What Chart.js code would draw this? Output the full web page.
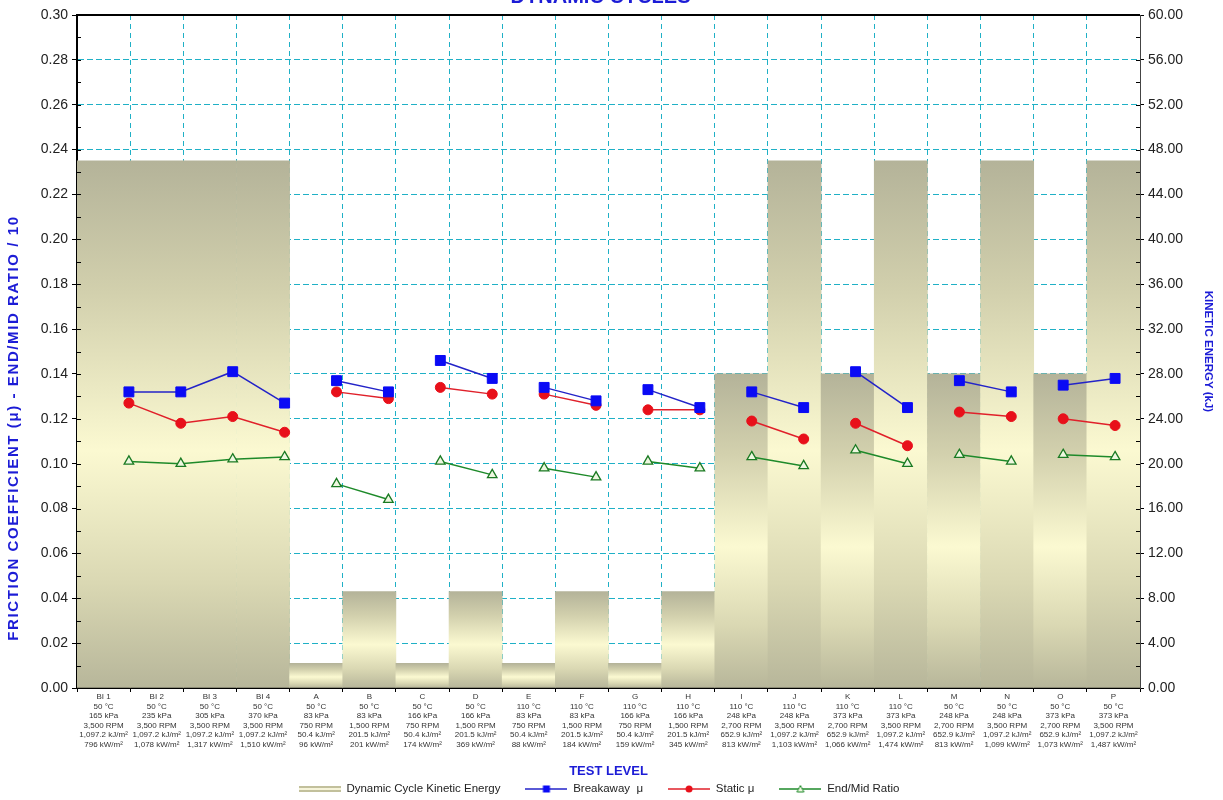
<!DOCTYPE html>
<html><head><meta charset="utf-8">
<script src="https://cdn.jsdelivr.net/npm/chart.js@4.4.1/dist/chart.umd.min.js"></script>
<style>html,body{margin:0;padding:0;background:#fff;overflow:hidden}#wrap{width:1223px;height:800px}</style>
</head><body><div id="wrap"><canvas id="c" width="1223" height="800"></canvas></div>
<script>
const categories = ['BI 1','BI 2','BI 3','BI 4','A','B','C','D','E','F','G','H','I','J','K','L','M','N','O','P'];
const temps = ['50 °C','50 °C','50 °C','50 °C','50 °C','50 °C','50 °C','50 °C','110 °C','110 °C','110 °C','110 °C','110 °C','110 °C','110 °C','110 °C','50 °C','50 °C','50 °C','50 °C'];
const pressures = ['165 kPa','235 kPa','305 kPa','370 kPa','83 kPa','83 kPa','166 kPa','166 kPa','83 kPa','83 kPa','166 kPa','166 kPa','248 kPa','248 kPa','373 kPa','373 kPa','248 kPa','248 kPa','373 kPa','373 kPa'];
const speeds = ['3,500 RPM','3,500 RPM','3,500 RPM','3,500 RPM','750 RPM','1,500 RPM','750 RPM','1,500 RPM','750 RPM','1,500 RPM','750 RPM','1,500 RPM','2,700 RPM','3,500 RPM','2,700 RPM','3,500 RPM','2,700 RPM','3,500 RPM','2,700 RPM','3,500 RPM'];
const energyDensity = ['1,097.2 kJ/m²','1,097.2 kJ/m²','1,097.2 kJ/m²','1,097.2 kJ/m²','50.4 kJ/m²','201.5 kJ/m²','50.4 kJ/m²','201.5 kJ/m²','50.4 kJ/m²','201.5 kJ/m²','50.4 kJ/m²','201.5 kJ/m²','652.9 kJ/m²','1,097.2 kJ/m²','652.9 kJ/m²','1,097.2 kJ/m²','652.9 kJ/m²','1,097.2 kJ/m²','652.9 kJ/m²','1,097.2 kJ/m²'];
const powerDensity = ['796 kW/m²','1,078 kW/m²','1,317 kW/m²','1,510 kW/m²','96 kW/m²','201 kW/m²','174 kW/m²','369 kW/m²','88 kW/m²','184 kW/m²','159 kW/m²','345 kW/m²','813 kW/m²','1,103 kW/m²','1,066 kW/m²','1,474 kW/m²','813 kW/m²','1,099 kW/m²','1,073 kW/m²','1,487 kW/m²'];

const kineticEnergy = [47.0,47.0,47.0,47.0,2.2,8.6,2.2,8.6,2.2,8.6,2.2,8.6,28.0,47.0,28.0,47.0,28.0,47.0,28.0,47.0];
const breakawayMu = [0.132,0.132,0.141,0.127,0.137,0.132,0.146,0.138,0.134,0.128,0.133,0.125,0.132,0.125,0.141,0.125,0.137,0.132,0.135,0.138];
const staticMu = [0.127,0.118,0.121,0.114,0.132,0.129,0.134,0.131,0.131,0.126,0.124,0.124,0.119,0.111,0.118,0.108,0.123,0.121,0.120,0.117];
const endMidRatio = [0.101,0.100,0.102,0.103,0.091,0.084,0.101,0.095,0.098,0.094,0.101,0.098,0.103,0.099,0.106,0.100,0.104,0.101,0.104,0.103];
const groupEnds = [3,5,7,9,11,13,15,17,19];

const leftMax = 0.30, leftStep = 0.02, rightMax = 60, rightStep = 4;
const legendTexts = ['Dynamic Cycle Kinetic Energy','Breakaway  μ','Static μ','End/Mid Ratio'];
const leftTitle = 'FRICTION COEFFICIENT (μ) - END/MID RATIO / 10';
const rightTitle = 'KINETIC ENERGY (kJ)';
const xTitle = 'TEST LEVEL';
const chartTitle = 'DYNAMIC CYCLES';

const FONT = 'Arial, "Liberation Sans", sans-serif';
const BLUE_T = '#1c1cd6';

const xLabels = categories.map((c,i)=>[c,temps[i],pressures[i],speeds[i],energyDensity[i],powerDensity[i]]);

function buildPoints(vals){
  const pts=[];
  vals.forEach((v,i)=>{pts.push({x:i,y:v}); if(groupEnds.includes(i) && i<vals.length-1) pts.push({x:i+0.5,y:null});});
  return pts;
}

function barFill(ctx){
  const chart=ctx.chart;
  if(!chart.chartArea || ctx.type!=='data') return '#c9c7a6';
  const ys=chart.scales.y1;
  const top=ys.getPixelForValue(ctx.raw), bot=ys.getPixelForValue(0);
  if(!isFinite(top)||!isFinite(bot)||bot-top<1) return '#c9c7a6';
  const g=chart.ctx.createLinearGradient(0,top,0,bot);
  g.addColorStop(0,'#b4b399');
  g.addColorStop(0.25,'#d2d0ad');
  g.addColorStop(0.55,'#fbf9d1');
  g.addColorStop(0.8,'#dad8b3');
  g.addColorStop(1,'#b7b69a');
  return g;
}

function swatch(fn){const c=document.createElement('canvas');c.width=42;c.height=12;const g=c.getContext('2d');g.translate(0,6);fn(g);return c;}
const swatches=[
  swatch(g=>{g.fillStyle='#c2c09c';g.fillRect(0,-3,42,6);g.fillStyle='#f6f4da';g.fillRect(0,-1,42,2);}),
  swatch(g=>{g.strokeStyle='#2323c8';g.lineWidth=1.5;g.beginPath();g.moveTo(0,0);g.lineTo(42,0);g.stroke();g.fillStyle='#0a0af5';g.fillRect(17.5,-3.5,7,7);}),
  swatch(g=>{g.strokeStyle='#e0202a';g.lineWidth=1.5;g.beginPath();g.moveTo(0,0);g.lineTo(42,0);g.stroke();g.fillStyle='#e8101a';g.beginPath();g.arc(21,0,3.5,0,Math.PI*2);g.fill();}),
  swatch(g=>{g.strokeStyle='#1e8a2a';g.lineWidth=1.5;g.beginPath();g.moveTo(0,0);g.lineTo(42,0);g.stroke();g.fillStyle='#eef7e0';g.lineWidth=1;g.beginPath();g.moveTo(21,-3.5);g.lineTo(24.5,3);g.lineTo(17.5,3);g.closePath();g.fill();g.stroke();})
];

const decor = {
  id:'decor',
  afterDraw(chart){
    const {ctx, chartArea:a} = chart;
    const ys=chart.scales.y;
    ctx.save();
    ctx.strokeStyle='#000'; ctx.lineWidth=2;
    ctx.beginPath(); ctx.moveTo(a.left-1,a.top); ctx.lineTo(a.right,a.top); ctx.stroke();
    ctx.lineWidth=1;
    for(let k=0;k<=30;k++){
      const y=Math.round(ys.getPixelForValue(k/100))+0.5;
      ctx.beginPath(); ctx.moveTo(a.left,y); ctx.lineTo(a.left+4,y); ctx.stroke();
      ctx.beginPath(); ctx.moveTo(a.right-4,y); ctx.lineTo(a.right,y); ctx.stroke();
    }
    ctx.fillStyle=BLUE_T; ctx.font='bold 20px '+FONT; ctx.textAlign='center'; ctx.textBaseline='alphabetic';
    ctx.fillText(chartTitle,(a.left+a.right)/2-8,3);
    ctx.restore();
    // left axis title
    ctx.save();
    ctx.translate(14,428);
    ctx.rotate(-Math.PI/2);
    ctx.font='bold 15px '+FONT;
    const w=ctx.measureText(leftTitle).width;
    const n=[...leftTitle].length;
    if('letterSpacing' in ctx){ ctx.letterSpacing=Math.max(0,(424-w)/(n-1)).toFixed(2)+'px'; }
    ctx.fillStyle=BLUE_T; ctx.textAlign='center'; ctx.textBaseline='middle';
    ctx.fillText(leftTitle,0,0);
    ctx.restore();
  }
};

new Chart(document.getElementById('c'),{
  type:'bar',
  data:{
    labels:xLabels,
    datasets:[
      {type:'bar',label:legendTexts[0],data:kineticEnergy,xAxisID:'x',yAxisID:'y1',backgroundColor:barFill,borderWidth:0,barPercentage:1,categoryPercentage:1,grouped:false,order:10},
      {type:'line',label:legendTexts[1],data:buildPoints(breakawayMu),xAxisID:'xl',yAxisID:'y',borderColor:'#2323c8',borderWidth:1.5,pointStyle:'rect',pointRadius:7,pointBackgroundColor:'#0a0af5',pointBorderColor:'#0a0af5',pointBorderWidth:1,spanGaps:false,order:1},
      {type:'line',label:legendTexts[2],data:buildPoints(staticMu),xAxisID:'xl',yAxisID:'y',borderColor:'#e0202a',borderWidth:1.5,pointStyle:'circle',pointRadius:5,pointBackgroundColor:'#e8101a',pointBorderColor:'#e8101a',pointBorderWidth:1,spanGaps:false,order:2},
      {type:'line',label:legendTexts[3],data:buildPoints(endMidRatio),xAxisID:'xl',yAxisID:'y',borderColor:'#1e8a2a',borderWidth:1.5,pointStyle:'triangle',pointRadius:5.5,pointBackgroundColor:'#eef7e0',pointBorderColor:'#1a7a22',pointBorderWidth:1.3,spanGaps:false,order:3}
    ]
  },
  options:{
    responsive:false, animation:false, devicePixelRatio:1,
    layout:{padding:{top:15,left:0,right:25,bottom:0}},
    plugins:{
      tooltip:{enabled:false},
      title:{display:false},
      legend:{
        position:'bottom', maxHeight:41.75,
        labels:{
          usePointStyle:true, pointStyleWidth:42, padding:25, color:'#222',
          font:{family:FONT,size:11.5},
          generateLabels:()=>legendTexts.map((t,i)=>({text:t,pointStyle:swatches[i],fillStyle:'rgba(0,0,0,0)',strokeStyle:'rgba(0,0,0,0)',lineWidth:0,hidden:false,datasetIndex:i,fontColor:'#222'}))
        }
      }
    },
    scales:{
      x:{
        type:'category', position:'bottom', offset:true,
        grid:{offset:true, color:'#1fb0c6', lineWidth:1, tickLength:4, tickColor:'#000', tickBorderDash:[]},
        border:{display:true, color:'#000', width:2, dash:[5,4]},
        ticks:{autoSkip:false, maxRotation:0, minRotation:0, padding:0, color:'#333', font:{family:FONT,size:8,lineHeight:1.2}},
        title:{display:true, text:xTitle, color:BLUE_T, font:{family:FONT,size:13,weight:'bold',lineHeight:1.2}, padding:{top:0,bottom:-20.5}},
        afterFit(s){s.height=800-688-41.75;}
      },
      xl:{type:'linear', display:false, offset:false, bounds:'data', grace:0, min:-1, max:19.48},
      y:{
        position:'left', min:0, max:leftMax,
        grid:{color:'#1fb0c6', lineWidth:1, tickLength:5, tickColor:'#000', tickBorderDash:[]},
        border:{display:true, color:'#000', width:2, dash:[6,3]},
        ticks:{stepSize:leftStep, padding:4, color:'#222', font:{family:FONT,size:14}, callback:v=>Number(v).toFixed(2)},
        title:{display:false, text:leftTitle},
        afterFit(s){s.width=77;}
      },
      y1:{
        position:'right', min:0, max:rightMax,
        grid:{drawOnChartArea:false, tickLength:4, tickColor:'#000'},
        border:{display:true, color:'#444', width:1},
        ticks:{stepSize:rightStep, padding:4, color:'#222', font:{family:FONT,size:14}, callback:v=>Number(v).toFixed(2)},
        title:{display:true, text:rightTitle, color:BLUE_T, font:{family:FONT,size:11.5,weight:'bold',lineHeight:1.2}, padding:{top:-17,bottom:0}},
        afterFit(s){s.width=58;}
      }
    }
  },
  plugins:[decor]
});
</script>
</body></html>
